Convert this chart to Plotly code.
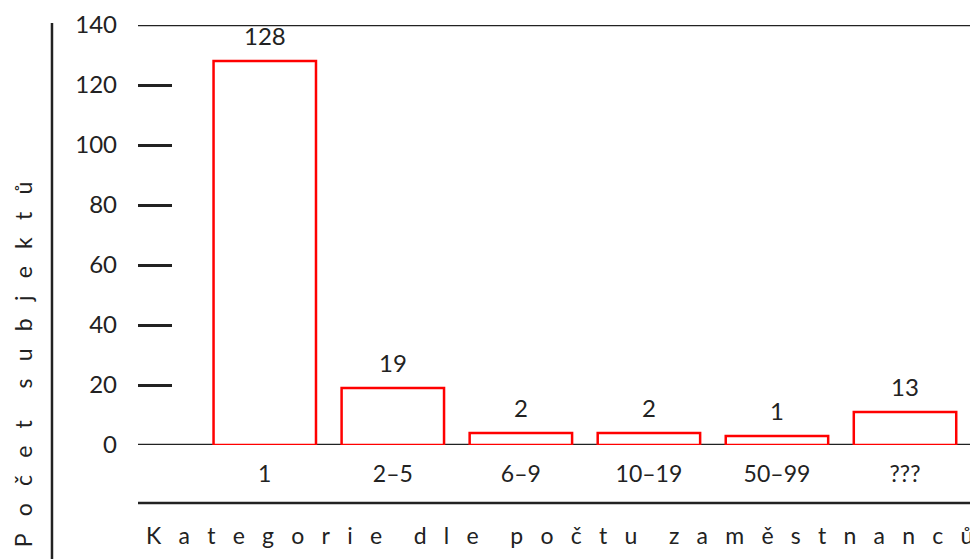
import plotly.graph_objects as go

categories = ["1", "2–5", "6–9", "10–19", "50–99", "???"]
counts = [128, 19, 2, 2, 1, 13]
bar_heights = [128, 19, 4, 4, 3, 11]
y_ticks = [0, 20, 40, 60, 80, 100, 120, 140]

FONT = "Lato"
INK = "#222222"


def spaced(s):
    # wide letter spacing like the original
    return "\u2003\u2002\u2009".join("\u2002\u2009\u2009".join(w) for w in s.split())


fig = go.Figure()
fig.add_trace(go.Bar(
    x=list(range(len(categories))), y=bar_heights,
    marker=dict(color="white", line=dict(color="#ff0000", width=2.5)),
    width=0.8, hoverinfo="skip"
))

for i, (h, n) in enumerate(zip(bar_heights, counts)):
    fig.add_annotation(x=i, y=h, text=str(n), showarrow=False, yanchor="bottom",
                       yshift=9, font=dict(size=24, color=INK, family=FONT))

# long horizontal lines at 0, 140 and under the category labels
for yv in (0, 140):
    fig.add_shape(type="line", xref="paper", yref="y", x0=0, x1=1, y0=yv, y1=yv,
                  line=dict(color=INK, width=2.5), layer="below")
fig.add_shape(type="line", xref="paper", yref="paper", x0=0, x1=1, y0=-0.138, y1=-0.138,
              line=dict(color=INK, width=2.5))
# vertical line on the left
fig.add_shape(type="line", xref="paper", yref="paper", x0=-0.1024, x1=-0.1024, y0=1.005, y1=-0.3,
              line=dict(color=INK, width=2.5))

fig.add_annotation(xref="paper", yref="paper", x=0.502, y=-0.214, xanchor="center", yanchor="middle",
                   text=spaced("Kategorie dle počtu zaměstnanců"), showarrow=False,
                   font=dict(size=23, color=INK, family=FONT))
fig.add_annotation(xref="paper", yref="paper", x=-0.1369, y=0.192, xanchor="center", yanchor="middle",
                   text=spaced("Počet subjektů"), textangle=-90, showarrow=False, borderpad=0,
                   font=dict(size=23, color=INK, family=FONT))

# page body has an 8px margin, so the figure is 8px smaller on each side
fig.update_layout(
    width=970, height=551,
    margin=dict(l=130, r=0, t=17, b=114),
    paper_bgcolor="white", plot_bgcolor="white",
    showlegend=False, bargap=0.2,
    font=dict(family=FONT, color=INK),
    xaxis=dict(range=[-0.99, 5.57], tickvals=list(range(len(categories))), ticktext=categories,
               showgrid=False, zeroline=False, showline=False, automargin=False,
               tickfont=dict(size=23, color=INK, family=FONT), ticks="", ticklabelstandoff=13),
    yaxis=dict(range=[0, 140], tickvals=y_ticks, showgrid=False, zeroline=False, showline=False,
               automargin=False, ticks="inside", ticklen=34, tickwidth=2.5, tickcolor=INK,
               tickfont=dict(size=24, color=INK, family=FONT), ticklabelstandoff=20),
)

fig.write_html("out.html")
